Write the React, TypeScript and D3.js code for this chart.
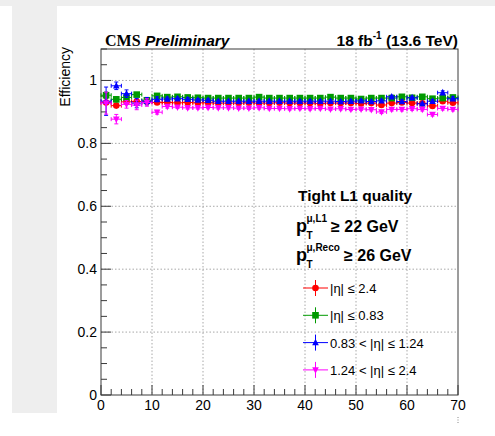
import React from "react";
import * as d3 from "d3";

const binCenters = [1, 3, 5, 7, 9, 11, 13, 15, 17, 19, 21, 23, 25, 27, 29, 31, 33, 35, 37, 39, 41, 43, 45, 47, 49, 51, 53, 55, 57, 59, 61, 63, 65, 67, 69];
const binHalfWidth = 1;

const effAll = [0.930, 0.920, 0.932, 0.933, 0.932, 0.930, 0.930, 0.929, 0.930, 0.929, 0.929, 0.928, 0.928, 0.928, 0.929, 0.928, 0.928, 0.929, 0.928, 0.928, 0.928, 0.927, 0.928, 0.928, 0.928, 0.927, 0.928, 0.922, 0.928, 0.930, 0.928, 0.927, 0.919, 0.934, 0.929];
const errAll = [0.006, 0.005, 0.004, 0.004, 0.003, 0.003, 0.003, 0.002, 0.002, 0.002, 0.002, 0.002, 0.002, 0.002, 0.002, 0.002, 0.002, 0.002, 0.002, 0.002, 0.002, 0.002, 0.002, 0.002, 0.002, 0.002, 0.002, 0.003, 0.003, 0.003, 0.003, 0.003, 0.003, 0.003, 0.003];

const effBarrel = [0.953, 0.940, 0.946, 0.955, 0.937, 0.951, 0.947, 0.948, 0.946, 0.945, 0.944, 0.944, 0.944, 0.944, 0.944, 0.947, 0.944, 0.944, 0.944, 0.944, 0.944, 0.944, 0.947, 0.944, 0.944, 0.941, 0.944, 0.944, 0.944, 0.948, 0.945, 0.948, 0.942, 0.944, 0.946];
const errBarrel = [0.010, 0.008, 0.006, 0.005, 0.004, 0.003, 0.003, 0.003, 0.003, 0.003, 0.003, 0.003, 0.003, 0.003, 0.003, 0.003, 0.003, 0.003, 0.003, 0.003, 0.003, 0.003, 0.003, 0.003, 0.003, 0.003, 0.003, 0.004, 0.004, 0.004, 0.004, 0.004, 0.004, 0.004, 0.004];

const effOverlap = [0.934, 0.983, 0.958, 0.928, 0.934, 0.940, 0.941, 0.942, 0.940, 0.938, 0.937, 0.934, 0.934, 0.934, 0.934, 0.934, 0.934, 0.934, 0.934, 0.934, 0.934, 0.934, 0.934, 0.933, 0.934, 0.935, 0.933, 0.935, 0.948, 0.933, 0.945, 0.926, 0.934, 0.961, 0.942];
const errOverlap = [0.045, 0.012, 0.012, 0.015, 0.012, 0.008, 0.006, 0.005, 0.005, 0.004, 0.004, 0.004, 0.004, 0.004, 0.004, 0.004, 0.004, 0.004, 0.004, 0.004, 0.004, 0.004, 0.004, 0.004, 0.004, 0.004, 0.004, 0.005, 0.005, 0.005, 0.005, 0.005, 0.005, 0.006, 0.006];

const effEndcap = [0.928, 0.877, 0.924, 0.922, 0.930, 0.899, 0.917, 0.915, 0.913, 0.913, 0.914, 0.913, 0.913, 0.912, 0.912, 0.913, 0.911, 0.911, 0.910, 0.911, 0.910, 0.911, 0.909, 0.910, 0.908, 0.909, 0.907, 0.900, 0.908, 0.908, 0.910, 0.908, 0.892, 0.911, 0.908];
const errEndcap = [0.035, 0.015, 0.012, 0.015, 0.012, 0.006, 0.005, 0.004, 0.004, 0.004, 0.004, 0.004, 0.004, 0.004, 0.004, 0.004, 0.004, 0.004, 0.004, 0.004, 0.004, 0.004, 0.004, 0.004, 0.004, 0.004, 0.004, 0.005, 0.005, 0.005, 0.005, 0.005, 0.005, 0.005, 0.005];

const seriesLabels = ["|η| ≤ 2.4", "|η| ≤ 0.83", "0.83 < |η| ≤ 1.24", "1.24 < |η| ≤ 2.4"];
const seriesColors = ["#ff0000", "#009a00", "#0000ff", "#ff00ff"];
const seriesMarkers = ["circle", "square", "triUp", "triDown"];
const seriesValues = [effAll, effBarrel, effOverlap, effEndcap];
const seriesErrors = [errAll, errBarrel, errOverlap, errEndcap];

const xTicks = [0, 10, 20, 30, 40, 50, 60, 70];
const yTicks = [0, 0.2, 0.4, 0.6, 0.8, 1];
const yTickLabels = ["0", "0.2", "0.4", "0.6", "0.8", "1"];

const W = 495, H = 436;
const L = 101, R = 458, T = 49, B = 395;
const sans = "'Liberation Sans', Arial, Helvetica, sans-serif";
const serif = "'Liberation Serif', 'Times New Roman', serif";

function Marker({ kind, x, y, color }: { kind: string; x: number; y: number; color: string }) {
  const s = 3.3;
  if (kind === "circle") return <circle cx={x} cy={y} r={s} fill={color} />;
  if (kind === "square") return <rect x={x - s} y={y - s} width={2 * s} height={2 * s} fill={color} />;
  if (kind === "triUp")
    return <polygon points={`${x},${y - s - 0.6} ${x - s},${y + s - 0.6} ${x + s},${y + s - 0.6}`} fill={color} />;
  return <polygon points={`${x},${y + s + 0.6} ${x - s},${y - s + 0.6} ${x + s},${y - s + 0.6}`} fill={color} />;
}

export default function App() {
  const x = d3.scaleLinear().domain([0, 70]).range([L, R]);
  const y = d3.scaleLinear().domain([0, 1.1]).range([B, T]);
  const xMinor = d3.range(0, 70.001, 2);
  const yMinor = d3.range(0, 1.1001, 0.05);
  const axisColor = "#3a3a3a";
  const cap = 2;

  return (
    <div style={{ position: "fixed", left: 0, top: 0 }}>
      <svg width={W} height={H} style={{ display: "block", background: "#fff" }}>
        <rect x={0} y={0} width={W} height={6} fill="#eeeeee" />
        <rect x={12} y={6} width={45} height={407} fill="#eeeeee" />

        {/* grid */}
        {xTicks.slice(1, -1).map((t) => (
          <line key={"gx" + t} x1={x(t)} x2={x(t)} y1={T} y2={B} stroke="#a8a8a8" strokeDasharray="1.5,2" strokeWidth={1} />
        ))}
        {yTicks.slice(1).map((t) => (
          <line key={"gy" + t} x1={L} x2={R} y1={y(t)} y2={y(t)} stroke="#a8a8a8" strokeDasharray="1.5,2" strokeWidth={1} />
        ))}

        {/* frame */}
        <rect x={L} y={T} width={R - L} height={B - T} fill="none" stroke={axisColor} strokeWidth={1} />

        {/* ticks */}
        {xMinor.map((t, i) => (
          <line key={"xt" + i} x1={x(t)} x2={x(t)} y1={B} y2={B - (Math.abs(t % 10) < 1e-6 ? 10 : 6)} stroke={axisColor} />
        ))}
        {yMinor.map((t, i) => (
          <line key={"yt" + i} x1={L} x2={L + (i % 4 === 0 ? 10 : 6)} y1={y(t)} y2={y(t)} stroke={axisColor} />
        ))}

        {/* tick labels */}
        {xTicks.map((t) => (
          <text key={"xl" + t} x={x(t)} y={410} textAnchor="middle" fontFamily={sans} fontSize={14} fill="#000">
            {t}
          </text>
        ))}
        {yTicks.map((t, i) => (
          <text key={"yl" + t} x={97} y={y(t) + 5} textAnchor="end" fontFamily={sans} fontSize={14} fill="#000">
            {yTickLabels[i]}
          </text>
        ))}

        <text x={70} y={47} transform="rotate(-90, 70, 47)" textAnchor="end" fontFamily={sans} fontSize={14} fill="#000">
          Efficiency
        </text>

        <line x1={458} x2={458} y1={417} y2={424} stroke="#888" strokeDasharray="1,1.5" />

        {/* header */}
        <text x={105} y={46} fontFamily={serif} fontWeight="bold" fontSize={16} fill="#000">
          CMS
        </text>
        <text x={145} y={46} fontFamily={sans} fontWeight="bold" fontStyle="italic" fontSize={15.5} fill="#000">
          Preliminary
        </text>
        <text x={458} y={46} textAnchor="end" fontFamily={sans} fontWeight="bold" fontSize={15.5} fill="#000">
          18 fb
          <tspan fontSize={10} dy={-7}>-1</tspan>
          <tspan dy={7}> (13.6 TeV)</tspan>
        </text>

        {/* data */}
        {seriesValues.map((vals, si) => (
          <g key={"s" + si} stroke={seriesColors[si]} strokeWidth={1}>
            {vals.map((v, i) => {
              const cx = x(binCenters[i]);
              const cy = y(v);
              const x0 = x(binCenters[i] - binHalfWidth);
              const x1 = x(binCenters[i] + binHalfWidth);
              const yHi = y(v + seriesErrors[si][i]);
              const yLo = y(v - seriesErrors[si][i]);
              return (
                <g key={i}>
                  <line x1={x0} x2={x1} y1={cy} y2={cy} />
                  <line x1={x0} x2={x0} y1={cy - cap} y2={cy + cap} />
                  <line x1={x1} x2={x1} y1={cy - cap} y2={cy + cap} />
                  <line x1={cx} x2={cx} y1={yHi} y2={yLo} />
                  <line x1={cx - cap} x2={cx + cap} y1={yHi} y2={yHi} />
                  <line x1={cx - cap} x2={cx + cap} y1={yLo} y2={yLo} />
                </g>
              );
            })}
            <g stroke="none">
              {vals.map((v, i) => (
                <Marker key={"m" + i} kind={seriesMarkers[si]} x={x(binCenters[i])} y={y(v)} color={seriesColors[si]} />
              ))}
            </g>
          </g>
        ))}

        {/* legend */}
        <text x={298} y={201} fontFamily={sans} fontWeight="bold" fontSize={15.5} fill="#000">
          Tight L1 quality
        </text>
        <text x={296} y={232} fontFamily={sans} fontWeight="bold" fontSize={18} fill="#000">p</text>
        <text x={306.5} y={222} fontFamily={sans} fontWeight="bold" fontSize={10} fill="#000">μ,L1</text>
        <text x={306.5} y={239} fontFamily={sans} fontWeight="bold" fontSize={10} fill="#000">T</text>
        <text x={331} y={232} fontFamily={sans} fontWeight="bold" fontSize={16} fill="#000">≥ 22 GeV</text>

        <text x={296} y={261} fontFamily={sans} fontWeight="bold" fontSize={18} fill="#000">p</text>
        <text x={306.5} y={251} fontFamily={sans} fontWeight="bold" fontSize={10} fill="#000">μ,Reco</text>
        <text x={306.5} y={268} fontFamily={sans} fontWeight="bold" fontSize={10} fill="#000">T</text>
        <text x={344} y={261} fontFamily={sans} fontWeight="bold" fontSize={16} fill="#000">≥ 26 GeV</text>

        {seriesLabels.map((lab, si) => {
          const ly = 288 + si * 27.3;
          return (
            <g key={"lg" + si}>
              <line x1={303} x2={328} y1={ly} y2={ly} stroke={seriesColors[si]} strokeWidth={1} />
              <line x1={315.5} x2={315.5} y1={ly - 8} y2={ly + 8} stroke={seriesColors[si]} strokeWidth={1} />
              <Marker kind={seriesMarkers[si]} x={315.5} y={ly} color={seriesColors[si]} />
              <text x={330} y={ly + 5} fontFamily={sans} fontSize={13} fill="#000">
                {lab}
              </text>
            </g>
          );
        })}
      </svg>
    </div>
  );
}
